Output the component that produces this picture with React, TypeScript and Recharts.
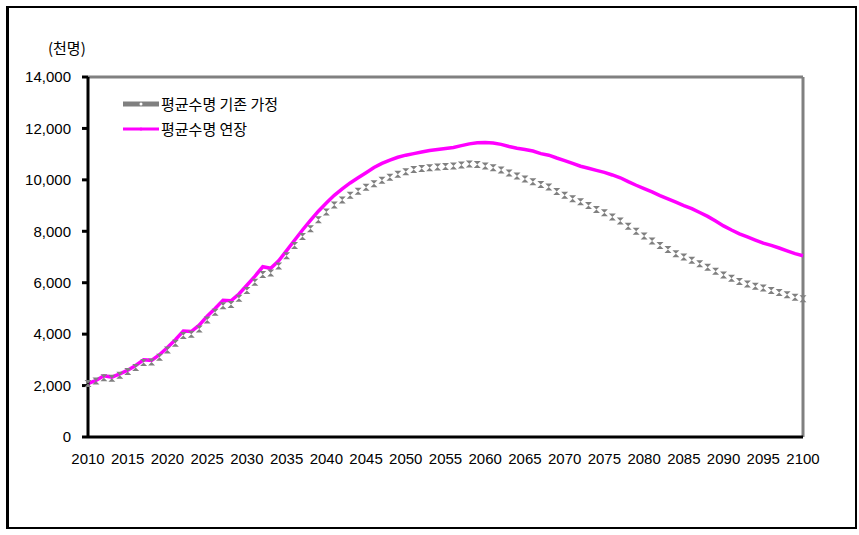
import React from "react";
import { LineChart, Line, XAxis, YAxis, ReferenceLine } from "recharts";

const years = Array.from({ length: 91 }, (_, i) => 2010 + i);

const baseSeriesName = "평균수명 기존 가정";
const extSeriesName = "평균수명 연장";
const unitLabel = "(천명)";

// 평균수명 기존 가정 (천명), 2010~2100
const baseValues = [
  2080, 2180, 2300, 2280, 2400, 2550, 2700, 2900, 2920, 3100,
  3380, 3650, 3950, 4000, 4200, 4550, 4850, 5100, 5150, 5400,
  5700, 6020, 6320, 6380, 6650, 7050, 7450, 7800, 8100, 8450,
  8750, 9020, 9220, 9400, 9560, 9710, 9850, 9980, 10100, 10220,
  10320, 10400, 10440, 10470, 10500, 10520, 10540, 10580, 10620, 10600,
  10540, 10470, 10380, 10270, 10150, 10030, 9930, 9820, 9720, 9550,
  9400, 9270, 9150, 9000, 8850, 8720, 8560, 8400, 8200, 8000,
  7820, 7620, 7450, 7290, 7130, 7000, 6870, 6740, 6600, 6450,
  6300, 6170, 6050, 5950, 5860, 5790, 5700, 5620, 5530, 5430,
  5380,
];

// 평균수명 연장 (천명), 2010~2100
const extValues = [
  2080, 2200, 2380, 2330, 2450, 2600, 2780, 3000, 2980, 3200,
  3480, 3780, 4120, 4100, 4350, 4700, 5000, 5320, 5300, 5560,
  5900, 6250, 6620, 6560, 6850, 7250, 7650, 8050, 8420, 8780,
  9100, 9400, 9650, 9880, 10080, 10280, 10480, 10640, 10770, 10880,
  10960, 11020, 11080, 11140, 11180, 11220, 11260, 11330, 11400, 11440,
  11450, 11430, 11380, 11300, 11230, 11180, 11120, 11020, 10960, 10850,
  10750, 10640, 10530, 10450, 10370, 10290, 10190, 10080, 9930, 9790,
  9660, 9530, 9390, 9260, 9130, 9000, 8880, 8730, 8580, 8400,
  8210, 8050, 7900, 7780, 7660, 7540, 7450, 7350, 7240, 7130,
  7050,
];

const yTicks = [0, 2000, 4000, 6000, 8000, 10000, 12000, 14000];

const data = years.map((year, i) => ({
  year,
  base: baseValues[i],
  ext: extValues[i],
}));

const GRAY = "#808080";
const PINK = "#ff00ff";
const NUM_FONT = "'Liberation Sans', Arial, sans-serif";
const KR_FONT = "'Noto Sans CJK KR', sans-serif";

// small hourglass marker used by the gray series
const HourglassDot = (props: any) => {
  const { cx, cy } = props;
  if (cx == null || cy == null) return null;
  const s = 3.5;
  return (
    <path
      d={`M${cx - s},${cy - s} L${cx + s},${cy - s} L${cx},${cy} L${cx + s},${cy + s} L${cx - s},${cy + s} L${cx},${cy} Z`}
      fill={GRAY}
    />
  );
};

export default function App() {
  return (
    <div style={{ position: "absolute", left: 0, top: 0, width: 859, height: 535, background: "#fff" }}>
      <div
        style={{
          position: "absolute", left: 6, top: 6, width: 846, height: 519,
          borderLeft: "3px solid #000", borderTop: "2px solid #000",
          borderRight: "2px solid #000", borderBottom: "2px solid #000",
        }}
      />
      <div style={{ position: "absolute", left: 48, top: 37, fontFamily: KR_FONT, fontSize: 15, color: "#000" }}>
        {unitLabel}
      </div>
      <div style={{ position: "absolute", left: 0, top: 0 }}>
        <LineChart width={859} height={535} data={data} margin={{ top: 77, right: 56, bottom: 0, left: 0 }}>
          <XAxis
            dataKey="year"
            interval={4}
            height={98}
            axisLine={{ stroke: "#000", strokeWidth: 3 }}
            tickLine={false}
            tickSize={6}
            tickMargin={10}
            tick={{ fontSize: 15, fill: "#000", fontFamily: NUM_FONT }}
          />
          <YAxis
            width={88}
            domain={[0, 14000]}
            ticks={yTicks}
            interval={0}
            axisLine={{ stroke: "#000", strokeWidth: 3 }}
            tickLine={{ stroke: "#000", strokeWidth: 3 }}
            tickSize={6}
            tickMargin={11}
            tickFormatter={(v) => Number(v).toLocaleString("en-US")}
            tick={{ fontSize: 15, fill: "#000", fontFamily: NUM_FONT }}
          />
          <ReferenceLine y={14000} stroke={GRAY} strokeWidth={3} />
          <ReferenceLine x={2100} stroke={GRAY} strokeWidth={3} />
          <Line
            dataKey="base"
            name={baseSeriesName}
            stroke={GRAY}
            strokeOpacity={0}
            dot={<HourglassDot />}
            activeDot={false}
            isAnimationActive={false}
          />
          <Line
            dataKey="ext"
            name={extSeriesName}
            stroke={PINK}
            strokeWidth={3.5}
            dot={false}
            activeDot={false}
            isAnimationActive={false}
          />
        </LineChart>
      </div>
      <div style={{ position: "absolute", left: 123, top: 91, fontFamily: KR_FONT, fontSize: 15, color: "#000", lineHeight: "25px" }}>
        {[
          { name: baseSeriesName, color: GRAY, w: 5 },
          { name: extSeriesName, color: PINK, w: 3 },
        ].map((s) => (
          <div key={s.name} style={{ display: "flex", alignItems: "center", height: 25 }}>
            <svg width={37} height={10} style={{ marginRight: 1 }}>
              <line x1={0} y1={5} x2={36} y2={5} stroke={s.color} strokeWidth={s.w} />
              <circle cx={18} cy={5} r={1.5} fill={s.color === GRAY ? "#fff" : s.color} />
            </svg>
            <span>{s.name}</span>
          </div>
        ))}
      </div>
    </div>
  );
}
